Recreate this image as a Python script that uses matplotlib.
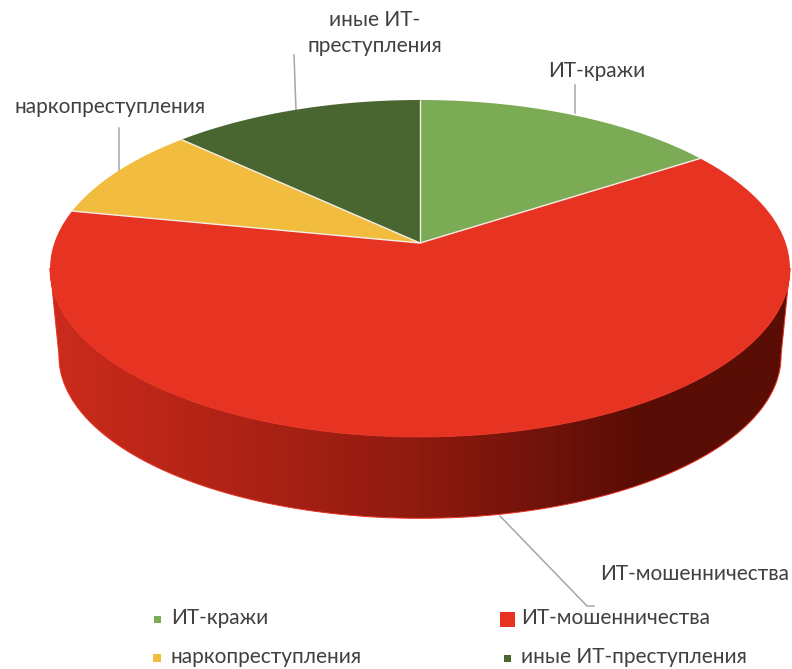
import numpy as np
import matplotlib
matplotlib.use("Agg")
import matplotlib.pyplot as plt
from matplotlib.colors import LinearSegmentedColormap
from matplotlib.patches import Polygon, Rectangle

plt.rcParams['font.family'] = ['Lato', 'DejaVu Sans']

categories = ["ИТ-кражи", "ИТ-мошенничества", "наркопреступления", "иные ИТ-преступления"]
values = [15.6, 62.6, 9.0, 12.8]
colors = ["#7cab55", "#e73322", "#f2bd3f", "#4a6630"]

W, H = 792, 669
fig = plt.figure(figsize=(W / 100, H / 100), dpi=100)
ax = fig.add_axes([0, 0, 1, 1])
ax.set_xlim(0, W)
ax.set_ylim(H, 0)
ax.axis("off")

cx, cy, A, B, k = 420.0, 243.0, 164.6, 365.7, 0.151
mid_y = 268.5


def top(t):
    u, v = np.sin(t), np.cos(t)
    d = 1 + k * v
    return cx + B * u / d, cy - A * v / d


def low(t):
    x, y = top(t)
    return cx + (x - cx) * 0.976, mid_y + (y - mid_y) * 0.964 + 87.5


t_all = np.linspace(0, 2 * np.pi, 721)
xt, yt = top(t_all)
xl, yl = low(t_all)
ir, il = np.argmax(xt), np.argmin(xt)

# side wall: front half of the upper rim joined to the front half of the lower rim
ltop = np.column_stack([xt[ir:il + 1], yt[ir:il + 1]])
llow = np.column_stack([xl[ir:il + 1], yl[ir:il + 1]])
side = np.vstack([ltop, llow[::-1]])
lmap = LinearSegmentedColormap.from_list("side", [
    (0.0, "#cc2b1c"), (0.24, "#b02316"), (0.50, "#8f1a0f"),
    (0.68, "#6e120a"), (0.80, "#590d05"), (1.0, "#590d05")])
poly = Polygon(side, closed=True, facecolor="none", edgecolor="#e73322", lw=0.7, zorder=2)
ax.add_patch(poly)
im = ax.imshow(np.linspace(0, 1, 512)[None, :], cmap=lmap, vmin=0, vmax=1,
               extent=[50, 790, 530, 260], aspect="auto", zorder=1.5)
im.set_clip_path(poly)
ax.set_xlim(0, W)
ax.set_ylim(H, 0)

# top face
edges = np.cumsum([0] + values) / sum(values) * 2 * np.pi
for i, c in enumerate(colors):
    t = np.linspace(edges[i], edges[i + 1], 300)
    x, y = top(t)
    pts = np.vstack([[cx, cy], np.column_stack([x, y])])
    ax.add_patch(Polygon(pts, closed=True, facecolor=c, edgecolor="none", zorder=3))
for e in edges[:-1]:
    x, y = top(e)
    ax.plot([cx, x], [cy, y], color="#f4efe6", lw=1.0, zorder=4, solid_capstyle="butt")

# leader lines
leaders = [
    ([575, 575], [85, 113]),
    ([294, 296], [55, 110]),
    ([119, 119], [128, 172]),
    ([500, 587, 594], [516, 606, 606]),
]
for lx, ly in leaders:
    ax.plot(lx, ly, color="#a6a6a6", lw=1.1, zorder=2.5)

tc = "#404040"
fs = 15.0
ax.text(597, 71, "ИТ-кражи", ha="center", va="center", color=tc, fontsize=fs)
ax.text(375, 33, "иные ИТ-\nпреступления", ha="center", va="center", color=tc,
        fontsize=fs, linespacing=1.32)
ax.text(110, 107, "наркопреступления", ha="center", va="center", color=tc, fontsize=fs)
ax.text(695, 574, "ИТ-мошенничества", ha="center", va="center", color=tc, fontsize=fs)

# legend
legend_pos = [(171, 618), (521, 618), (171, 657), (521, 657)]
legend_size = [7, 15, 8, 7]
marker_x = [157, 507, 157, 507]
for name, c, (lx, ly), s, mx in zip(categories, colors, legend_pos, legend_size, marker_x):
    ax.add_patch(Rectangle((mx - s / 2, ly + 1 - s / 2), s, s, facecolor=c, edgecolor="none"))
    ax.text(lx, ly, name, ha="left", va="center", color=tc, fontsize=fs)

fig.savefig("out.png", dpi=100, facecolor="white")
